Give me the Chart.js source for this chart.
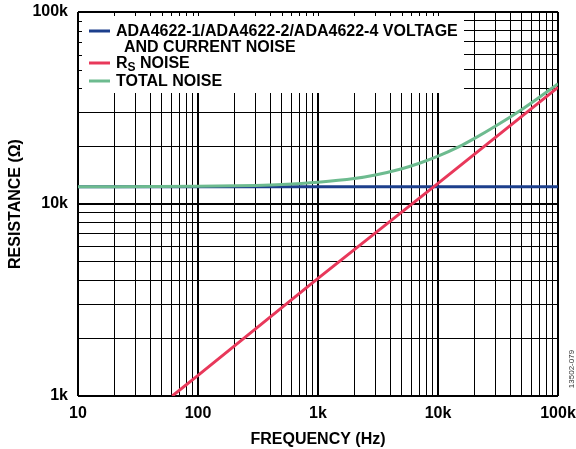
<!DOCTYPE html>
<html>
<head>
<meta charset="utf-8">
<script src="https://cdn.jsdelivr.net/npm/chart.js@4.4.1/dist/chart.umd.min.js"></script>
<style>
html,body{margin:0;padding:0;background:#fff;}
#wrap{width:576px;height:449px;}
</style>
</head>
<body>
<div id="wrap"><canvas id="chart" width="576" height="449"></canvas></div>
<script>
// decade ticks and their labels
const xDecades = [10, 100, 1000, 10000, 100000];
const xDecadeLabels = ["10", "100", "1k", "10k", "100k"];
const yDecades = [1000, 10000, 100000];
const yDecadeLabels = ["1k", "10k", "100k"];

// ADA4622 voltage + current noise (flat)
const devFreq = [10, 100, 1000, 10000, 100000];
const devNoise = [12300, 12300, 12300, 12300, 12300];

// source resistor noise
const rsFreq = [61, 100, 1000, 10000, 100000];
const rsNoise = [1000, 1280, 4100, 12800, 40500];

// total noise
const totFreq = [10, 100, 300, 500, 1000, 2000, 3000, 5000, 7000, 10000, 15000, 20000, 30000, 50000, 70000, 100000];
const totNoise = [12300, 12370, 12500, 12630, 12970, 13560, 14160, 15270, 16300, 17750, 19900, 21900, 25400, 31100, 36000, 42300];

const legendItems = [
  {lines: ["ADA4622-1/ADA4622-2/ADA4622-4 VOLTAGE", "AND CURRENT NOISE"], color: "#1c3f8c"},
  {lines: ["R", "S", " NOISE"], color: "#e8385a", sub: true},
  {lines: ["TOTAL NOISE"], color: "#6dbb8f"}
];

const FONT = "'Liberation Sans', Arial, sans-serif";

function withMinors(decades) {
  let out = [];
  decades.forEach((d, i) => {
    if (i < decades.length - 1) {
      for (let k = 1; k <= 9; k++) out.push({value: d * k, major: k === 1});
    } else out.push({value: d, major: true});
  });
  return out;
}
function labelFor(decades, labels, v) {
  let i = decades.indexOf(v);
  return i >= 0 ? labels[i] : "";
}
function isDecade(v) {
  let l = Math.log10(v);
  return Math.abs(l - Math.round(l)) < 1e-9;
}
const toXY = (xs, ys) => xs.map((x, i) => ({x: x, y: ys[i]}));

const legendPlugin = {
  id: "boxLegend",
  afterDatasetsDraw(chart) {
    const c = chart.ctx, xs = chart.scales.x, ys = chart.scales.y;
    const left = xs.left, top = ys.top;
    const boxR = 464, boxB = 93;
    c.save();
    c.fillStyle = "#fff";
    c.fillRect(left + 1, top + 1, boxR - left - 1, boxB - top - 1);
    // little tick marks on the border under the box
    c.strokeStyle = "#000";
    c.lineWidth = 1;
    withMinors(xDecades).forEach(t => {
      let px = Math.round(xs.getPixelForValue(t.value)) + 0.5;
      if (px > left + 2 && px < boxR) {
        c.beginPath(); c.moveTo(px, top); c.lineTo(px, top + 4); c.stroke();
      }
    });
    withMinors(yDecades).forEach(t => {
      let py = Math.round(ys.getPixelForValue(t.value)) + 0.5;
      if (py > top + 2 && py < boxB) {
        c.beginPath(); c.moveTo(left, py); c.lineTo(left + 4, py); c.stroke();
      }
    });
    // entries
    const rows = [32, 64, 82];
    c.textBaseline = "middle";
    c.fillStyle = "#000";
    legendItems.forEach((it, i) => {
      let y = rows[i];
      c.strokeStyle = it.color;
      c.lineWidth = 3;
      c.beginPath(); c.moveTo(89, y - 1); c.lineTo(110, y - 1); c.stroke();
      c.font = "bold 16px " + FONT;
      if (it.sub) {
        c.fillText(it.lines[0], 116, y);
        let w = c.measureText(it.lines[0]).width;
        c.font = "bold 12px " + FONT;
        c.fillText(it.lines[1], 116 + w, y + 4);
        let w2 = c.measureText(it.lines[1]).width;
        c.font = "bold 16px " + FONT;
        c.fillText(it.lines[2], 116 + w + w2, y);
      } else {
        c.fillText(it.lines[0], 116, y);
        if (it.lines[1]) c.fillText(it.lines[1], 124, y + 16);
      }
    });
    // figure id
    c.translate(572, 369);
    c.rotate(-Math.PI / 2);
    c.textAlign = "center";
    c.fillStyle = "#333";
    c.font = "8px " + FONT;
    c.fillText("13502-079", 0, 0);
    c.restore();
  }
};

new Chart(document.getElementById("chart"), {
  type: "line",
  data: {
    datasets: [
      {label: "RS NOISE", data: toXY(rsFreq, rsNoise), borderColor: "#e8385a", borderWidth: 3, pointRadius: 0, order: 1},
      {label: "TOTAL NOISE", data: toXY(totFreq, totNoise), borderColor: "#6dbb8f", borderWidth: 3, pointRadius: 0, cubicInterpolationMode: "monotone", order: 2},
      {label: "ADA4622 VOLTAGE AND CURRENT NOISE", data: toXY(devFreq, devNoise), borderColor: "#1c3f8c", borderWidth: 3, pointRadius: 0, order: 3}
    ]
  },
  options: {
    responsive: false,
    animation: false,
    layout: {padding: {top: 12, right: 18, left: 0, bottom: 0}},
    plugins: {legend: {display: false}, tooltip: {enabled: false}},
    scales: {
      x: {
        type: "logarithmic",
        min: 10, max: 100000,
        afterBuildTicks: s => { s.ticks = withMinors(xDecades); },
        afterFit: s => { s.height = 53; s.paddingLeft = 0; s.paddingRight = 0; },
        grid: {color: "#000", drawTicks: false, lineWidth: ctx => isDecade(ctx.tick.value) ? 2 : 1},
        border: {display: false},
        ticks: {
          autoSkip: false, maxRotation: 0, padding: 8, color: "#000",
          font: {family: FONT, weight: "bold", size: 16},
          callback: v => labelFor(xDecades, xDecadeLabels, v)
        },
        title: {display: true, text: "FREQUENCY (Hz)", color: "#000", padding: {top: 0, bottom: 0},
          font: {family: FONT, weight: "bold", size: 16}}
      },
      y: {
        type: "logarithmic",
        min: 1000, max: 100000,
        afterBuildTicks: s => { s.ticks = withMinors(yDecades); },
        afterFit: s => { s.width = 78; s.paddingTop = 0; s.paddingBottom = 0; },
        grid: {color: "#000", drawTicks: false, lineWidth: ctx => isDecade(ctx.tick.value) ? 2 : 1},
        border: {display: false},
        ticks: {
          autoSkip: false, padding: 10, color: "#000",
          font: {family: FONT, weight: "bold", size: 16},
          callback: v => labelFor(yDecades, yDecadeLabels, v)
        },
        title: {display: true, text: "RESISTANCE (Ω)", color: "#000", padding: {top: 6, bottom: 0},
          font: {family: FONT, weight: "bold", size: 16}}
      }
    }
  },
  plugins: [legendPlugin]
});
</script>
</body>
</html>
